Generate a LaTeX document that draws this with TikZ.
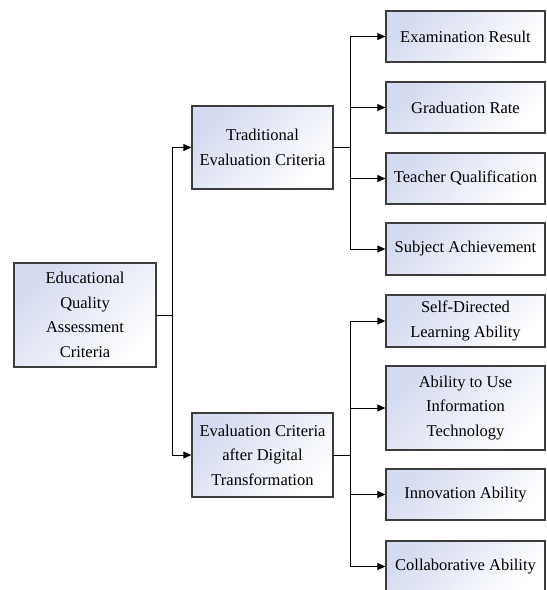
\documentclass[tikz,border=0pt]{standalone}
\usepackage{fontspec}
\setmainfont{Liberation Serif}
\usetikzlibrary{arrows.meta}
\definecolor{boxblue}{RGB}{212,218,240}
\definecolor{boxline}{RGB}{60,60,60}
\begin{document}
\begin{tikzpicture}[x=1pt,y=-1pt,
  box/.style={draw=boxline, line width=1.3pt, left color=boxblue, right color=white, shading angle=45,
    align=center, inner sep=0pt, font=\fontsize{16.5}{24.5}\selectfont},
  leaf/.style={box, minimum width=159pt, minimum height=51pt},
  link/.style={line width=1pt, draw=black},
  arr/.style={link, -{Triangle[length=8pt,width=7pt]}}]
\useasboundingbox (0,0) rectangle (547,590);

\node[box, minimum width=142pt, minimum height=104pt] (root) at (85,315) {Educational\\Quality\\Assessment\\Criteria};
\node[box, minimum width=141pt, minimum height=83pt] (trad) at (262.5,147.5) {Traditional\\Evaluation Criteria};
\node[box, minimum width=141pt, minimum height=84pt] (dig) at (262.5,455) {Evaluation Criteria\\after Digital\\Transformation};

\node[leaf] (e1) at (465.5,36.5) {Examination Result};
\node[leaf] (e2) at (465.5,107.5) {Graduation Rate};
\node[leaf] (e3) at (465.5,178.5) {Teacher Qualification};
\node[leaf, minimum height=52pt] (e4) at (465.5,249) {Subject Achievement};

\node[leaf, minimum height=52pt] (d1) at (465.5,321) {Self-Directed\\Learning Ability};
\node[leaf, minimum height=84pt] (d2) at (465.5,408) {Ability to Use\\Information\\Technology};
\node[leaf] (d3) at (465.5,494.5) {Innovation Ability};
\node[leaf] (d4) at (465.5,566.5) {Collaborative Ability};

\coordinate (trunk) at (172,315);
\coordinate (b1) at (350,147.5);
\coordinate (b2) at (350,455);

\draw[link] (root.east) -- (trunk);
\draw[arr] (trunk) |- (trad.west);
\draw[arr] (trunk) |- (dig.west);

\draw[link] (trad.east) -- (b1);
\draw[arr] (b1) |- (e1.west);
\draw[arr] (b1) |- (e2.west);
\draw[arr] (b1) |- (e3.west);
\draw[arr] (b1) |- (e4.west);

\draw[link] (dig.east) -- (b2);
\draw[arr] (b2) |- (d1.west);
\draw[arr] (b2) |- (d2.west);
\draw[arr] (b2) |- (d3.west);
\draw[arr] (b2) |- (d4.west);
\end{tikzpicture}
\end{document}
